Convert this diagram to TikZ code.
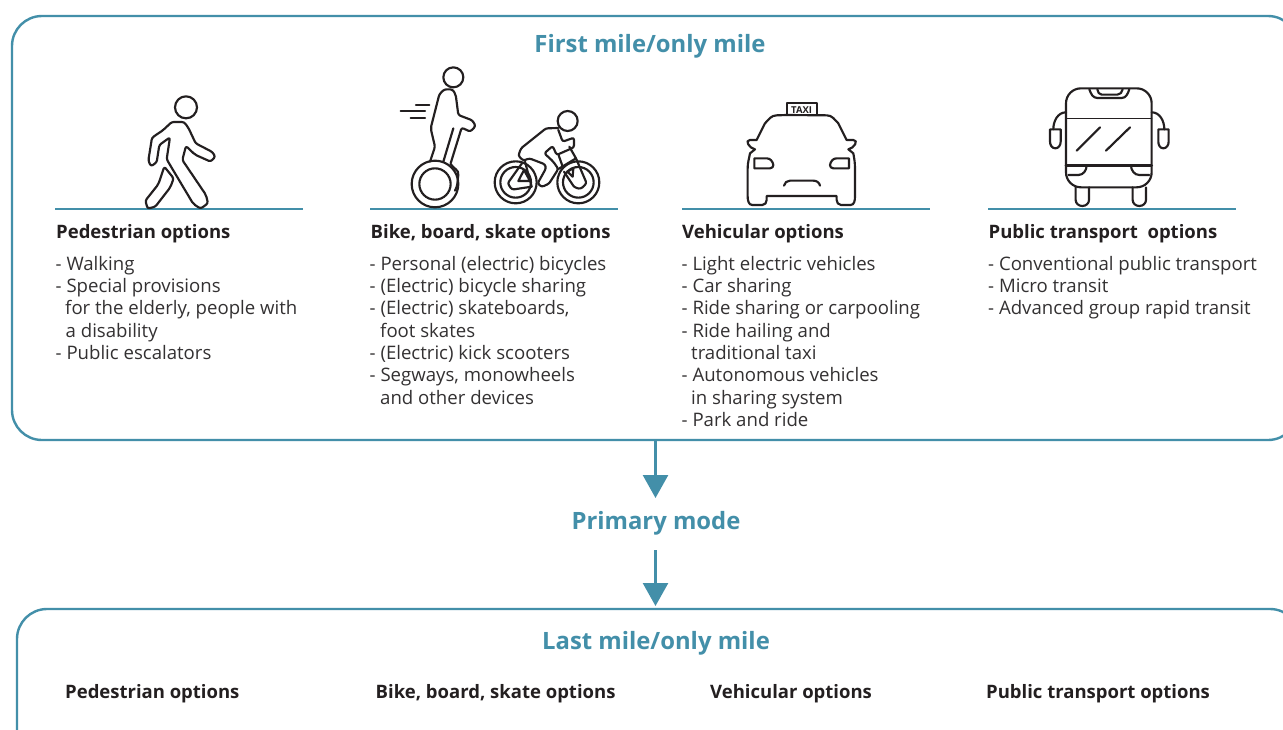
\documentclass[tikz,border=0pt]{standalone}
\usepackage{fontspec}
\setmainfont{Open Sans}
\usetikzlibrary{arrows.meta}
\definecolor{teal1}{HTML}{438FA9}
\definecolor{ink}{HTML}{231F20}
\definecolor{body}{HTML}{333132}
\tikzset{
  panel/.style={draw=teal1,line width=2.4pt,rounded corners=30pt},
  rule/.style={draw=teal1,line width=1.8pt},
  flow/.style={draw=teal1,line width=2.6pt,-{Triangle[length=23pt,width=25pt]}},
  heading/.style={font=\fontsize{23.85}{28}\selectfont\bfseries,text=teal1,inner sep=0pt,anchor=base},
  subhead/.style={font=\fontsize{18.5}{22}\selectfont\bfseries,text=ink,inner sep=0pt,anchor=base west},
  listing/.style={font=\fontsize{18.6}{22.3}\selectfont,text=body,inner sep=0pt,align=left,anchor=north west},
  icon/.style={draw=ink,line width=2.15pt,line join=round,line cap=round},
  soft/.style={icon,rounded corners=2.2pt},
  zoomed/.style={x=0.3333pt,y=-0.3333pt},
}
\begin{document}
\begin{tikzpicture}[x=1pt,y=-1pt]
\path[use as bounding box] (0,0) rectangle (1283,729);
\clip (0,0) rectangle (1283,729);
\fill[white] (0,0) rectangle (1283,729);
% panels
\draw[panel] (12,16) rectangle (1298,440);
\draw[panel] (17,609) rectangle (1300,760);
% headings
\node[heading] (first) at (650,52) {First mile/only mile};
\node[heading] (primary) at (656,529) {Primary mode};
\node[heading] (last) at (656,649) {Last mile/only mile};
% rules
\coordinate (r1a) at (55,209); \coordinate (r1b) at (303,209);
\coordinate (r2a) at (370,209); \coordinate (r2b) at (618,209);
\coordinate (r3a) at (682,209); \coordinate (r3b) at (930,209);
\coordinate (r4a) at (988,209); \coordinate (r4b) at (1236,209);
\draw[rule] (r1a) -- (r1b);
\draw[rule] (r2a) -- (r2b);
\draw[rule] (r3a) -- (r3b);
\draw[rule] (r4a) -- (r4b);
% subheads
\node[subhead] (h1) at (56,238) {Pedestrian options};
\node[subhead] (h2) at (370.5,238) {Bike, board, skate options};
\node[subhead] (h3) at (682,238) {Vehicular options};
\node[subhead] (h4) at (988.5,238) {Public transport\ \ options};
\node[subhead] (l1) at (65,698) {Pedestrian options};
\node[subhead] (l2) at (375.5,698) {Bike, board, skate options};
\node[subhead] (l3) at (710,698) {Vehicular options};
\node[subhead] (l4) at (986,698) {Public transport options};
% lists
\node[listing] (t1) at (55.5,256) {- Walking\\- Special provisions\\\hspace{9.5pt}for the elderly, people with\\\hspace{10pt}a disability\\- Public escalators};
\node[listing] (t2) at (369.5,256) {- Personal (electric) bicycles\\- (Electric) bicycle sharing\\- (Electric) skateboards,\\\hspace{10.5pt}foot skates\\- (Electric) kick scooters\\- Segways, monowheels\\\hspace{10.5pt}and other devices};
\node[listing] (t3) at (681.5,256) {- Light electric vehicles\\- Car sharing\\- Ride sharing or carpooling\\- Ride hailing and\\\hspace{9.5pt}traditional taxi\\- Autonomous vehicles\\\hspace{9.5pt}in sharing system\\- Park and ride};
\node[listing] (t4) at (988,256) {- Conventional public transport\\- Micro transit\\- Advanced group rapid transit};
% flow arrows
\coordinate (p1) at (655.5,440);
\coordinate (a1) at (655.5,498);
\coordinate (a2s) at (655.5,550);
\coordinate (a2e) at (655.5,606);
\draw[flow] (p1) -- (a1);
\draw[flow] (a2s) -- (a2e);
% walker
\begin{scope}[shift={(130,60)},zoomed]
\draw[icon] (168,142) circle [radius=33];
\draw[soft] (125,186) -- (162,186) -- (175,203) -- (197,250) -- (247,276) -- (256,290) -- (242,305) -- (195,284) -- (168,258) -- (157,300) -- (228,405) -- (234,430) -- (212,446) -- (190,432) -- (110,298) -- (120,232) -- (88,255) -- (80,307) -- (63,319) -- (55,302) -- (66,233) -- (100,210) -- cycle;
\draw[soft] (103,320) -- (131,355) -- (121,382) -- (76,440) -- (53,446) -- (46,422) -- (85,373) -- cycle;
\end{scope}
% segway
\begin{scope}[shift={(390,60)},zoomed]
\draw[icon] (190,52) circle [radius=30];
\draw[soft] (120,305) -- (135,260) -- (122,205) -- (148,103) -- (163,88) -- (187,88) -- (197,103) -- (205,165) -- (247,181) -- (257,198) -- (241,215) -- (215,203) -- (182,310);
\draw[icon] (190,205) -- (160,305);
\draw[icon] (135,372) circle [radius=70];
\draw[icon] (135,372) circle [radius=47];
\draw[icon] (182,312) to[out=-60,in=80] (205,345) to[out=-100,in=60] (195,392);
\draw[icon] (78,135) -- (118,135);
\draw[icon] (32,154) -- (105,154);
\draw[icon] (62,173) -- (105,173);
\end{scope}
% bicycle
\begin{scope}[shift={(490,105)},zoomed]
\draw[icon] (233,48) circle [radius=30];
\draw[icon] (77,232) circle [radius=63];
\draw[icon] (77,232) circle [radius=46];
\draw[icon] (265,232) circle [radius=63];
\draw[icon] (265,232) circle [radius=46];
\draw[soft] (205,69) -- (168,70) -- (93,130) -- (85,152) -- (100,167) -- (118,160) -- (165,178) -- (168,190) -- (143,235) -- (155,246) -- (177,236) -- (205,192) -- (190,170) -- (163,145) -- (188,123) -- (200,150) -- (252,127) -- (252,98) -- (218,110) -- (205,75);
\draw[soft] (98,172) -- (53,235) -- (66,254) -- (125,245);
\draw[icon] (85,228) -- (120,228) -- (102,195) -- cycle;
\draw[icon] (105,170) -- (125,245);
\draw[icon] (205,192) -- (258,160);
\draw[soft] (238,125) -- (258,160) -- (290,235) -- (272,252) -- (253,247) -- (222,200);
\draw[icon] (232,200) -- (250,190) -- (248,215) -- cycle;
\draw[icon] (205,148) -- (218,185);
\end{scope}
% taxi
\begin{scope}[shift={(735,90)},zoomed]
\draw[icon] (155,75) -- (155,38) -- (245,38) -- (245,75);
\node[inner sep=0pt,text=ink,font=\fontsize{9.5}{10}\selectfont\bfseries] (taxi) at (200,60) {TAXI};
\draw[icon] (155,75) -- (125,76) to[out=180,in=45] (90,100) -- (65,150) -- (45,150) to[out=180,in=170,looseness=1.4] (60,178) -- (45,190) to[out=-100,in=90] (38,235) -- (38,320) to[out=-90,in=180] (52,345) -- (82,345) to[out=0,in=-90] (95,330) -- (95,318) -- (305,318) -- (305,330) to[out=-90,in=180] (318,345) -- (347,345) to[out=0,in=-90] (360,320) -- (360,235) to[out=90,in=-80] (355,190) -- (340,178) to[out=10,in=0,looseness=1.4] (355,150) -- (335,150) -- (310,100) to[out=135,in=0] (275,76) -- (155,75);
\draw[icon] (58,205) -- (95,205) to[out=0,in=100] (115,225) to[out=-80,in=0] (105,235) -- (58,235) -- cycle;
\draw[icon] (342,205) -- (305,205) to[out=180,in=80] (285,225) to[out=-100,in=180] (295,235) -- (342,235) -- cycle;
\draw[icon] (147,287) to[out=80,in=180] (165,272) -- (235,272) to[out=0,in=100] (255,287);
\end{scope}
% bus
\begin{scope}[shift={(1040,80)},zoomed]
\draw[icon] (78,70) to[out=90,in=180] (123,25) -- (290,25) to[out=0,in=90] (335,70) -- (335,277) to[out=-90,in=0] (290,322) -- (123,322) to[out=180,in=-90] (78,277) -- cycle;
\draw[icon,line width=1.3pt] (78,115) -- (335,115);
\draw[icon,line width=2.8pt] (78,256) -- (335,256);
\draw[icon] (110,212) -- (180,142);
\draw[icon] (198,212) -- (270,142);
\draw[icon] (148,28) to[out=-70,in=180] (172,54) -- (245,54) to[out=0,in=-110] (268,28);
\draw[icon] (172,28) to[out=-80,in=180] (185,44) -- (232,44) to[out=0,in=-100] (248,28);
\draw[icon] (85,285) -- (115,285) to[out=0,in=-90] (140,256);
\draw[icon] (328,285) -- (298,285) to[out=180,in=-90] (273,256);
\draw[icon] (107,322) -- (107,360) to[out=-90,in=180] (127,378) to[out=0,in=-90] (147,360) -- (147,322);
\draw[icon] (278,322) -- (278,360) to[out=-90,in=180] (298,378) to[out=0,in=-90] (318,360) -- (318,322);
\draw[icon] (78,97) to[out=180,in=90] (40,148);
\draw[icon] (30,148) -- (62,148) -- (62,185) to[out=-90,in=0] (46,205) to[out=180,in=-90] (30,185) -- cycle;
\draw[icon] (335,97) to[out=0,in=90] (373,148);
\draw[icon] (355,148) -- (386,148) -- (386,185) to[out=-90,in=0] (370,205) to[out=180,in=-90] (355,185) -- cycle;
\end{scope}
\end{tikzpicture}
\end{document}
